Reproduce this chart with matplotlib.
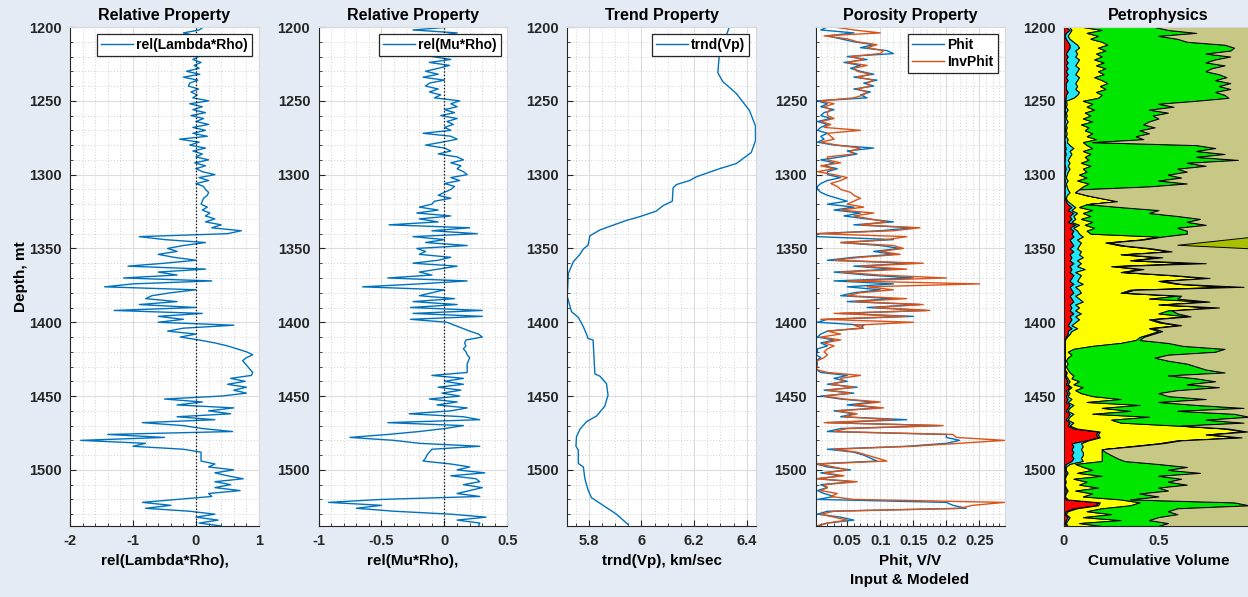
import numpy as np
import matplotlib.pyplot as plt
from matplotlib.ticker import MultipleLocator

plt.rcParams['font.family'] = ['Liberation Sans', 'DejaVu Sans']
plt.rcParams['font.weight'] = 'bold'
plt.rcParams['axes.labelweight'] = 'bold'
plt.rcParams['axes.titleweight'] = 'bold'

# ---------------- data (2 m sampling) ----------------
depth = np.arange(1200, 1539, 2)

rel_lambda_rho = [
    0.12, 0.05, -0.2, 0.0, 0.02, -0.02, 0.05, 0.0, 0.06, -0.03,
    0.04, -0.05, 0.08, -0.03, 0.05, -0.15, 0.06, -0.2, 0.03, -0.1,
    -0.12, 0.04, -0.08, 0.02, -0.05, 0.2, -0.1, 0.1, -0.05, 0.15,
    -0.08, 0.12, 0.0, 0.2, -0.05, 0.15, -0.05, 0.18, -0.26, 0.05,
    -0.1, 0.15, -0.05, 0.1, 0.0, 0.2, -0.02, 0.15, 0.0, 0.1,
    0.3, 0.05, 0.2, 0.0, 0.12, 0.15, 0.2, 0.18, 0.12, 0.1,
    0.08, 0.18, 0.1, 0.22, 0.15, 0.3, 0.15, 0.4, 0.25, 0.72,
    0.5, -0.9, -0.5, 0.15, -0.2, -0.45, -0.3, -0.6, -0.35, 0.0,
    -0.5, -1.08, 0.15, -0.6, -0.3, -1.15, 0.25, -1.0, -1.45, 0.0,
    -0.4, -0.7, -0.8, -0.3, -0.9, 0.0, -1.3, 0.1, -0.6, -0.2,
    -0.6, 0.6, -0.2, -0.45, 0.0, -0.25, 0.05, 0.3, 0.5, 0.65,
    0.8, 0.9, 0.8, 0.74, 0.78, 0.82, 0.86, 0.9, 0.88, 0.55,
    0.78, 0.5, 0.8, 0.6, 0.8, 0.4, -0.5, 0.1, -0.3, 0.6,
    0.2, 0.55, -0.3, 0.3, -0.85, -0.2, 0.1, 0.58, -1.4, -0.5,
    -1.83, -0.8, -1.0, -0.2, 0.08, 0.08, 0.08, 0.08, 0.3, 0.2,
    0.6, 0.3, 0.5, 0.75, 0.3, 0.55, 0.3, 0.7, 0.2, 0.25,
    -0.3, -0.85, -0.4, -0.8, -0.1, 0.3, 0.0, 0.35, 0.05, 0.4,
]

rel_mu_rho = [
    0.05, -0.25, 0.1, -0.05, 0.0, -0.05, 0.02, -0.06, 0.03, -0.02,
    -0.1, 0.05, -0.12, 0.04, -0.05, -0.15, -0.05, -0.17, 0.0, -0.12,
    -0.15, -0.05, -0.12, -0.03, -0.08, 0.12, 0.05, 0.1, 0.0, 0.08,
    -0.03, 0.1, 0.02, 0.07, 0.0, 0.05, -0.17, 0.05, 0.1, -0.02,
    -0.15, 0.0, 0.05, -0.05, 0.1, 0.15, 0.05, 0.13, 0.1, 0.15,
    0.18, 0.05, 0.12, 0.0, 0.08, 0.05, 0.0, -0.05, 0.05, -0.08,
    -0.1, -0.2, -0.05, -0.22, 0.05, -0.2, -0.05, -0.44, 0.2, -0.1,
    0.26, -0.25, 0.0, -0.15, 0.18, -0.22, -0.15, -0.2, 0.05, -0.05,
    -0.25, 0.1, -0.05, -0.2, -0.1, -0.45, 0.18, -0.2, -0.65, 0.0,
    -0.1, -0.2, 0.08, -0.25, 0.1, -0.27, 0.3, -0.25, 0.3, -0.27,
    0.02, 0.08, 0.14, 0.2, 0.27, 0.3, 0.17, 0.16, 0.17, 0.15,
    0.17, 0.18, 0.2, 0.19, 0.18, 0.18, 0.18, 0.18, -0.1, 0.15,
    0.0, 0.15, -0.05, 0.13, -0.02, 0.12, -0.12, 0.1, -0.06, 0.18,
    0.05, -0.28, 0.15, 0.28, -0.45, 0.15, 0.0, -0.2, -0.45, -0.75,
    -0.4, -0.2, 0.28, -0.1, -0.12, -0.14, -0.15, -0.17, 0.05, 0.2,
    0.1, 0.32, 0.05, 0.25, 0.28, 0.15, 0.3, 0.2, 0.1, 0.28,
    -0.5, -0.92, -0.5, -0.7, -0.4, 0.05, 0.33, 0.1, 0.28, 0.27,
]

trend_depth = [1200, 1218, 1231, 1237, 1245, 1256.5, 1267, 1277, 1285, 1292.5,
               1296, 1301.5, 1304, 1306.7, 1309, 1318, 1321, 1324.7, 1328.5, 1331,
               1335, 1337.5, 1341.4, 1347.8, 1350.4, 1354, 1359, 1367, 1382.5, 1392.8,
               1396.7, 1403, 1408, 1411, 1412, 1435, 1436.5, 1441.6, 1449.4, 1457,
               1463.5, 1467.4, 1472.5, 1477.6, 1484, 1486.6, 1495.6, 1498, 1506, 1513.6,
               1518.8, 1524, 1530, 1537]
trend_vp = [6.334, 6.296, 6.29, 6.309, 6.36, 6.41, 6.433, 6.433, 6.417, 6.36,
            6.296, 6.208, 6.183, 6.133, 6.12, 6.117, 6.082, 6.056, 5.993, 5.943,
            5.88, 5.842, 5.804, 5.797, 5.779, 5.766, 5.741, 5.722, 5.718, 5.734,
            5.76, 5.779, 5.791, 5.797, 5.816, 5.823, 5.842, 5.867, 5.873, 5.86,
            5.829, 5.791, 5.766, 5.753, 5.751, 5.76, 5.76, 5.779, 5.785, 5.797,
            5.81, 5.854, 5.905, 5.949]

phit = [
    0.02, 0.01, 0.06, 0.02, 0.04, 0.06, 0.09, 0.07, 0.11, 0.12,
    0.05, 0.08, 0.045, 0.07, 0.055, 0.07, 0.09, 0.06, 0.095, 0.075,
    0.09, 0.06, 0.085, 0.07, 0.08, 0.005, 0.02, 0.01, 0.03, 0.015,
    0.01, 0.025, 0.005, 0.02, 0.01, 0.005, 0.02, 0.01, 0.015, 0.005,
    0.03, 0.09, 0.05, 0.065, 0.04, 0.01, 0.03, 0.015, 0.035, 0.02,
    0.02, 0.04, 0.02, 0.01, 0.005, 0.005, 0.01, 0.02, 0.035, 0.05,
    0.02, 0.06, 0.03, 0.07, 0.045, 0.08, 0.12, 0.06, 0.15, 0.1,
    0.003, 0.004, 0.12, 0.04, 0.1, 0.13, 0.09, 0.12, 0.06, 0.02,
    0.15, 0.06, 0.12, 0.03, 0.08, 0.15, 0.03, 0.12, 0.05, 0.1,
    0.06, 0.04, 0.12, 0.05, 0.16, 0.08, 0.17, 0.04, 0.15, 0.02,
    0.005, 0.075, 0.07, 0.02, 0.01, 0.005, 0.03, 0.01, 0.02, 0.005,
    0.005, 0.003, 0.01, 0.003, 0.005, 0.003, 0.003, 0.01, 0.05, 0.03,
    0.05, 0.02, 0.065, 0.015, 0.06, 0.01, 0.04, 0.09, 0.05, 0.1,
    0.03, 0.06, 0.04, 0.14, 0.02, 0.19, 0.04, 0.02, 0.2, 0.2,
    0.22, 0.2, 0.14, 0.02, 0.06, 0.075, 0.085, 0.095, 0.003, 0.02,
    0.055, 0.01, 0.04, 0.005, 0.06, 0.01, 0.02, 0.005, 0.015, 0.03,
    0.005, 0.2, 0.21, 0.23, 0.02, 0.005, 0.04, 0.06, 0.02, 0.004,
]

inv_phit = [
    0.03, 0.06, 0.1, 0.015, 0.05, 0.065, 0.095, 0.08, 0.105, 0.1,
    0.055, 0.075, 0.05, 0.08, 0.06, 0.065, 0.085, 0.065, 0.09, 0.08,
    0.085, 0.065, 0.08, 0.075, 0.06, 0.01, 0.03, 0.015, 0.025, 0.02,
    0.02, 0.03, 0.01, 0.025, 0.015, 0.07, 0.02, 0.025, 0.03, 0.01,
    0.035, 0.07, 0.055, 0.06, 0.02, 0.02, 0.04, 0.01, 0.03, 0.005,
    0.03, 0.05, 0.04, 0.025, 0.035, 0.04, 0.055, 0.06, 0.07, 0.06,
    0.05, 0.075, 0.04, 0.09, 0.06, 0.085, 0.11, 0.07, 0.16, 0.12,
    0.005, 0.14, 0.11, 0.04, 0.12, 0.135, 0.1, 0.13, 0.07, 0.03,
    0.165, 0.07, 0.14, 0.04, 0.1, 0.2, 0.05, 0.25, 0.08, 0.12,
    0.07, 0.05, 0.14, 0.06, 0.165, 0.09, 0.175, 0.03, 0.14, 0.01,
    0.15, 0.06, 0.075, 0.02, 0.04, 0.01, 0.04, 0.015, 0.03, 0.02,
    0.015, 0.02, 0.015, 0.005, 0.003, 0.005, 0.003, 0.02, 0.07, 0.04,
    0.045, 0.025, 0.06, 0.02, 0.055, 0.015, 0.045, 0.1, 0.06, 0.105,
    0.035, 0.065, 0.045, 0.12, 0.015, 0.195, 0.05, 0.03, 0.21, 0.215,
    0.288, 0.22, 0.15, 0.03, 0.065, 0.08, 0.095, 0.11, 0.005, 0.03,
    0.05, 0.015, 0.045, 0.003, 0.065, 0.015, 0.02, 0.01, 0.035, 0.025,
    0.06, 0.288, 0.24, 0.22, 0.03, 0.01, 0.03, 0.05, 0.02, 0.005,
]

# cumulative volume boundaries for the petrophysics track
cum_red = [
    0.01, 0.03, 0.01, 0.005, 0.01, 0.02, 0.03, 0.03, 0.02, 0.01,
    0.02, 0.01, 0.02, 0.01, 0.02, 0.01, 0.02, 0.01, 0.02, 0.01,
    0.01, 0.01, 0.02, 0.01, 0.01, 0.005, 0.005, 0.005, 0.005, 0.005,
    0.005, 0.003, 0.005, 0.003, 0.005, 0.005, 0.003, 0.005, 0.003, 0.005,
    0.005, 0.01, 0.005, 0.01, 0.005, 0.005, 0.003, 0.005, 0.01, 0.005,
    0.005, 0.003, 0.005, 0.003, 0.005, 0.003, 0.005, 0.003, 0.005, 0.01,
    0.02, 0.04, 0.02, 0.05, 0.03, 0.04, 0.02, 0.06, 0.03, 0.05,
    0.04, 0.05, 0.03, 0.04, 0.05, 0.03, 0.05, 0.03, 0.04, 0.03,
    0.05, 0.03, 0.04, 0.03, 0.05, 0.04, 0.03, 0.05, 0.03, 0.04,
    0.05, 0.03, 0.04, 0.05, 0.03, 0.04, 0.03, 0.05, 0.03, 0.04,
    0.03, 0.02, 0.04, 0.02, 0.02, 0.01, 0.003, 0.003, 0.003, 0.003,
    0.003, 0.003, 0.003, 0.003, 0.003, 0.003, 0.003, 0.01, 0.005, 0.01,
    0.02, 0.01, 0.03, 0.01, 0.02, 0.01, 0.02, 0.01, 0.03, 0.02,
    0.01, 0.03, 0.02, 0.01, 0.03, 0.02, 0.05, 0.18, 0.17, 0.18,
    0.12, 0.04, 0.05, 0.04, 0.05, 0.04, 0.05, 0.04, 0.01, 0.005,
    0.005, 0.01, 0.005, 0.003, 0.005, 0.003, 0.005, 0.01, 0.005, 0.003,
    0.01, 0.18, 0.17, 0.05, 0.01, 0.005, 0.02, 0.01, 0.005, 0.01,
]

cum_cyan = [
    0.03, 0.04, 0.03, 0.02, 0.03, 0.05, 0.07, 0.08, 0.06, 0.07,
    0.06, 0.08, 0.07, 0.06, 0.08, 0.07, 0.06, 0.08, 0.07, 0.06,
    0.07, 0.06, 0.08, 0.07, 0.05, 0.01, 0.015, 0.01, 0.02, 0.01,
    0.015, 0.01, 0.02, 0.01, 0.015, 0.01, 0.015, 0.01, 0.02, 0.015,
    0.03, 0.05, 0.03, 0.04, 0.03, 0.02, 0.03, 0.02, 0.03, 0.02,
    0.015, 0.01, 0.02, 0.01, 0.015, 0.02, 0.03, 0.015, 0.01, 0.02,
    0.04, 0.06, 0.04, 0.07, 0.05, 0.06, 0.04, 0.08, 0.05, 0.07,
    0.08, 0.1, 0.07, 0.09, 0.08, 0.07, 0.09, 0.08, 0.1, 0.07,
    0.09, 0.07, 0.11, 0.06, 0.09, 0.08, 0.07, 0.1, 0.06, 0.08,
    0.09, 0.06, 0.08, 0.1, 0.06, 0.08, 0.06, 0.09, 0.06, 0.08,
    0.06, 0.04, 0.07, 0.04, 0.03, 0.015, 0.005, 0.005, 0.005, 0.005,
    0.005, 0.005, 0.005, 0.005, 0.005, 0.005, 0.005, 0.015, 0.01, 0.02,
    0.03, 0.02, 0.04, 0.02, 0.03, 0.02, 0.04, 0.02, 0.05, 0.03,
    0.02, 0.05, 0.03, 0.02, 0.05, 0.03, 0.07, 0.19, 0.18, 0.19,
    0.13, 0.09, 0.1, 0.09, 0.1, 0.1, 0.09, 0.1, 0.03, 0.01,
    0.01, 0.02, 0.01, 0.005, 0.01, 0.005, 0.01, 0.02, 0.01, 0.005,
    0.02, 0.19, 0.18, 0.07, 0.02, 0.01, 0.03, 0.02, 0.01, 0.02,
]

cum_yellow = [
    0.1, 0.2, 0.12, 0.18, 0.14, 0.2, 0.23, 0.18, 0.22, 0.17,
    0.2, 0.16, 0.21, 0.17, 0.22, 0.18, 0.21, 0.16, 0.2, 0.23,
    0.19, 0.22, 0.17, 0.2, 0.18, 0.1, 0.15, 0.12, 0.16, 0.11,
    0.14, 0.1, 0.15, 0.09, 0.13, 0.11, 0.15, 0.12, 0.17, 0.1,
    0.12, 0.15, 0.1, 0.14, 0.11, 0.13, 0.09, 0.14, 0.1, 0.12,
    0.08, 0.12, 0.07, 0.13, 0.1, 0.08, 0.06, 0.12, 0.2, 0.28,
    0.12, 0.08, 0.15, 0.1, 0.14, 0.09, 0.15, 0.11, 0.16, 0.12,
    0.14, 0.5, 0.4, 0.22, 0.3, 0.45, 0.55, 0.3, 0.5, 0.35,
    0.65, 0.25, 0.4, 0.3, 0.55, 0.75, 0.5, 0.6, 0.85, 0.35,
    0.3, 0.6, 0.45, 0.75, 0.5, 0.8, 0.55, 0.5, 0.65, 0.45,
    0.5, 0.6, 0.45, 0.5, 0.45, 0.4, 0.38, 0.3, 0.15, 0.05,
    0.02, 0.04, 0.02, 0.01, 0.02, 0.01, 0.02, 0.03, 0.05, 0.04,
    0.08, 0.05, 0.1, 0.06, 0.09, 0.15, 0.3, 0.12, 0.4, 0.2,
    0.35, 0.15, 0.45, 0.25, 0.3, 0.6, 0.85, 0.95, 0.75, 0.92,
    0.6, 0.5, 0.35, 0.2, 0.2, 0.2, 0.2, 0.2, 0.06, 0.1,
    0.15, 0.07, 0.2, 0.05, 0.12, 0.08, 0.18, 0.06, 0.15, 0.1,
    0.3, 0.4, 0.35, 0.2, 0.12, 0.25, 0.1, 0.3, 0.08, 0.2,
]

cum_green = [
    0.48, 0.55, 0.7, 0.5, 0.6, 0.65, 0.85, 0.9, 0.88, 0.75,
    0.88, 0.8, 0.75, 0.85, 0.78, 0.75, 0.82, 0.86, 0.8, 0.88,
    0.82, 0.88, 0.8, 0.85, 0.87, 0.7, 0.5, 0.58, 0.45, 0.55,
    0.47, 0.5, 0.45, 0.42, 0.48, 0.4, 0.45, 0.38, 0.42, 0.15,
    0.7, 0.8, 0.7, 0.85, 0.7, 0.92, 0.65, 0.75, 0.6, 0.65,
    0.55, 0.62, 0.5, 0.65, 0.45, 0.08, 0.06, 0.12, 0.2, 0.28,
    0.12, 0.3, 0.5, 0.45, 0.6, 0.72, 0.65, 0.75, 0.6, 0.65,
    0.65, 0.52, 0.42, 0.24, 0.32, 0.47, 0.57, 0.32, 0.52, 0.37,
    0.75, 0.27, 0.42, 0.32, 0.57, 0.77, 0.52, 0.62, 0.95, 0.37,
    0.32, 0.62, 0.6, 0.77, 0.52, 0.82, 0.57, 0.6, 0.67, 0.47,
    0.52, 0.62, 0.47, 0.52, 0.47, 0.42, 0.4, 0.55, 0.63, 0.85,
    0.8, 0.55, 0.48, 0.55, 0.65, 0.7, 0.75, 0.85, 0.55, 0.7,
    0.8, 0.65, 0.82, 0.6, 0.5, 0.55, 0.75, 0.5, 0.7, 0.95,
    0.6, 0.9, 0.98, 0.75, 0.95, 0.62, 0.87, 0.97, 0.77, 0.94,
    0.62, 0.52, 0.37, 0.2, 0.22, 0.25, 0.28, 0.32, 0.5, 0.65,
    0.55, 0.72, 0.5, 0.62, 0.55, 0.65, 0.5, 0.55, 0.4, 0.5,
    0.35, 0.9, 0.98, 0.6, 0.55, 0.6, 0.5, 0.45, 0.55, 0.5,
]

olive_depth = [1342, 1347.5, 1350]
olive_left = [1.0, 0.6, 1.0]

# ---------------- style ----------------
BG = '#E4EBF5'
BLUE = '#0072BD'
ORANGE = '#D95319'
DARK = '#262626'

fig = plt.figure(figsize=(12.48, 5.97), dpi=100, facecolor=BG)


def make_axes(i):
    left = (70 + 248.5 * i) / 1248
    ax = fig.add_axes([left, 71 / 597, 189 / 1248, 499 / 597])
    ax.set_facecolor('white')
    ax.set_ylim(1538, 1200)
    ax.yaxis.set_major_locator(MultipleLocator(50))
    ax.yaxis.set_minor_locator(MultipleLocator(10))
    ax.grid(which='major', color='#dcdcdc', lw=0.8)
    ax.grid(which='minor', color='#c4c4c4', lw=0.6, ls=(0, (1, 2.5)))
    ax.set_axisbelow(True)
    for s in ['top', 'right']:
        ax.spines[s].set_color('#d8d8d8')
    for s in ['left', 'bottom']:
        ax.spines[s].set_color(DARK)
    ax.tick_params(which='major', direction='in', length=4, labelsize=10.5,
                   colors=DARK, pad=6)
    ax.tick_params(which='minor', direction='in', length=2, colors=DARK)
    for lab in ax.get_xticklabels() + ax.get_yticklabels():
        lab.set_fontweight('bold')
    return ax


def set_xticks(ax, ticks, labels, minor):
    ax.set_xticks(ticks)
    ax.set_xticklabels(labels, fontweight='bold')
    ax.xaxis.set_minor_locator(MultipleLocator(minor))


def leg(ax):
    lg = ax.legend(loc='upper right', fancybox=False, edgecolor=DARK, framealpha=1,
                   prop={'size': 10, 'weight': 'bold'}, handlelength=2.3,
                   borderaxespad=0.5, borderpad=0.3, handletextpad=0.2,
                   labelspacing=0.2)
    lg.get_frame().set_linewidth(0.9)


# panel 1
ax1 = make_axes(0)
ax1.plot(rel_lambda_rho, depth, color=BLUE, lw=1.0, label='rel(Lambda*Rho)')
ax1.axvline(0, color='black', ls=':', lw=0.9)
ax1.set_xlim(-2, 1)
set_xticks(ax1, [-2, -1, 0, 1], ['-2', '-1', '0', '1'], 0.2)
ax1.set_title('Relative Property', fontsize=11.5, pad=5)
ax1.set_xlabel('rel(Lambda*Rho),', fontsize=11, labelpad=4)
ax1.set_ylabel('Depth, mt', fontsize=11, labelpad=1)
ax1.set_yticks([1200, 1250, 1300, 1350, 1400, 1450, 1500])
leg(ax1)

# panel 2
ax2 = make_axes(1)
ax2.plot(rel_mu_rho, depth, color=BLUE, lw=1.0, label='rel(Mu*Rho)')
ax2.axvline(0, color='black', ls=':', lw=0.9)
ax2.set_xlim(-1, 0.5)
set_xticks(ax2, [-1, -0.5, 0, 0.5], ['-1', '-0.5', '0', '0.5'], 0.1)
ax2.set_title('Relative Property', fontsize=11.5, pad=5)
ax2.set_xlabel('rel(Mu*Rho),', fontsize=11, labelpad=4)
leg(ax2)

# panel 3
ax3 = make_axes(2)
ax3.plot(trend_vp, trend_depth, color=BLUE, lw=1.0, label='trnd(Vp)')
ax3.set_xlim(5.717, 6.435)
set_xticks(ax3, [5.8, 6.0, 6.2, 6.4], ['5.8', '6', '6.2', '6.4'], 0.05)
ax3.set_title('Trend Property', fontsize=11.5, pad=5)
ax3.set_xlabel('trnd(Vp), km/sec', fontsize=11, labelpad=4)
leg(ax3)

# panel 4
ax4 = make_axes(3)
ax4.plot(phit, depth, color=BLUE, lw=1.0, label='Phit')
ax4.plot(inv_phit, depth, color=ORANGE, lw=1.0, label='InvPhit')
ax4.set_xlim(0.002, 0.288)
set_xticks(ax4, [0.05, 0.1, 0.15, 0.2, 0.25],
           ['0.05', '0.1', '0.15', '0.2', '0.25'], 0.01)
ax4.set_yticks([1250, 1300, 1350, 1400, 1450, 1500])
ax4.set_title('Porosity Property', fontsize=11.5, pad=5)
ax4.set_xlabel('Phit, V/V\nInput & Modeled', fontsize=11, labelpad=4,
               linespacing=1.45)
leg(ax4)

# panel 5
ax5 = make_axes(4)
edge = dict(edgecolor='black', lw=0.7)
ax5.fill_betweenx(depth, 0, cum_red, facecolor='#FF0000', **edge)
ax5.fill_betweenx(depth, cum_red, cum_cyan, facecolor='#22E5F5', **edge)
ax5.fill_betweenx(depth, cum_cyan, cum_yellow, facecolor='#FFFF00', **edge)
ax5.fill_betweenx(depth, cum_yellow, cum_green, facecolor='#00E600', **edge)
ax5.fill_betweenx(depth, cum_green, 1.0, facecolor='#C8C886', **edge)
ax5.fill_betweenx(olive_depth, olive_left, 1.0, facecolor='#A8C000', **edge)
ax5.set_xlim(0, 1)
set_xticks(ax5, [0, 0.5], ['0', '0.5'], 0.1)
ax5.grid(False, which='both')
ax5.set_yticks([1200, 1250, 1300, 1350, 1400, 1450, 1500])
ax5.set_title('Petrophysics', fontsize=11.5, pad=5)
ax5.set_xlabel('Cumulative Volume', fontsize=11, labelpad=4)

fig.savefig('out.png', dpi=100, facecolor=BG)
